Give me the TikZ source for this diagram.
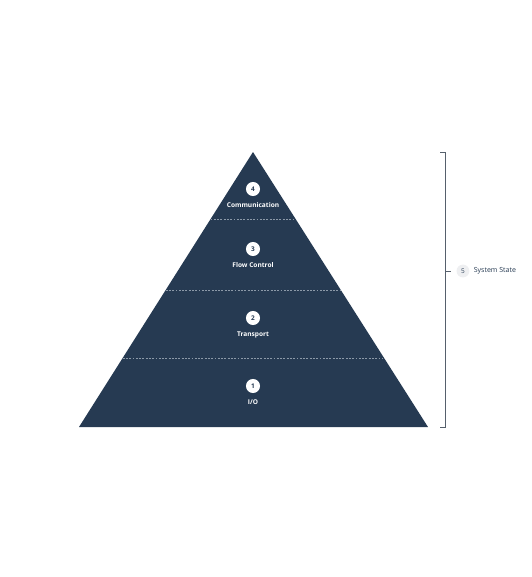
\documentclass[tikz,border=0pt]{standalone}
\usepackage{fontspec}
\setmainfont{Open Sans}
\usepackage{tikz}
\usetikzlibrary{positioning}
\definecolor{navy}{HTML}{263A52}
\definecolor{sepline}{HTML}{8C99A8}
\definecolor{bracketgrey}{HTML}{56606C}
\definecolor{badgegrey}{HTML}{EEEFF1}
\tikzstyle{badge} = [circle, fill=white, text=navy, inner sep=0pt, minimum size=12pt, font=\fontsize{5.5}{6}\selectfont\bfseries]
\tikzstyle{layer} = [text=white, font=\fontsize{5.6}{7}\selectfont\bfseries]
\tikzstyle{sep} = [sepline, dashed, dash pattern=on 1.6pt off 1.2pt, line width=0.4pt]

\begin{document}
\begin{tikzpicture}[x=0.03cm, y=-0.03cm]
                        \useasboundingbox (0,0) rectangle (532,577);
                        % pyramid
                        \fill[navy] (253,152) -- (428,427) -- (79,427) -- cycle;
                        \draw[sep] (210.6,219) -- (295.4,219);
                        \draw[sep] (165.7,290) -- (340.3,290);
                        \draw[sep] (122.7,358) -- (383.3,358);
                        % layers
                        \node[badge] (b4) at (253,189) {4};
                        \node[layer, below=2pt of b4] (l4) {Communication};
                        \node[badge] (b3) at (253,249) {3};
                        \node[layer, below=2pt of b3] (l3) {Flow Control};
                        \node[badge] (b2) at (253,318) {2};
                        \node[layer, below=2pt of b2] (l2) {Transport};
                        \node[badge] (b1) at (253,386) {1};
                        \node[layer, below=2pt of b1] (l1) {I/O};
                        % bracket
                        \draw[bracketgrey, line width=0.6pt] (440,152) -- (445,152) -- (445,427) -- (440,427);
                        \coordinate (mid) at (445,271);
                        \draw[bracketgrey, line width=0.6pt] (mid) -- ++(6,0) coordinate (tip);
                        \node[badge, fill=badgegrey, text=navy, font=\fontsize{5.5}{6}\selectfont, minimum size=11pt, right=4.5pt of tip] (b5) {5};
                        \node[text=navy, font=\fontsize{6}{7}\selectfont, right=0pt of b5] (l5) {System State};
                    \end{tikzpicture}
\end{document}
